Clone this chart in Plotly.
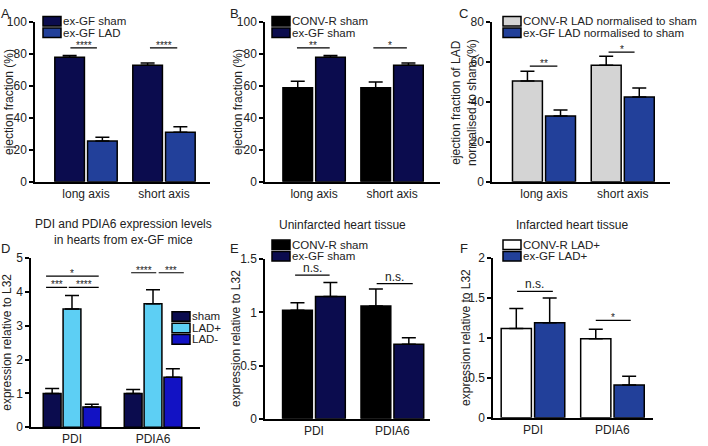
import plotly.graph_objects as go

W, H = 708, 446
FONT = "Liberation Sans, Arial, sans-serif"
TXT = "#222222"

# ---- data -------------------------------------------------------------
ef_cats = ["long axis", "short axis"]
gene_cats = ["PDI", "PDIA6"]

# A: ejection fraction, ex-GF sham vs ex-GF LAD
a_sham = [78.0, 73.0]
a_sham_err = [1.2, 1.5]
a_lad = [25.5, 31.0]
a_lad_err = [2.5, 3.5]

# B: ejection fraction, CONV-R sham vs ex-GF sham
b_conv = [59.0, 59.0]
b_conv_err = [4.0, 3.5]
b_exgf = [78.0, 73.0]
b_exgf_err = [1.2, 1.5]

# C: LAD normalised to sham
c_conv = [50.5, 58.5]
c_conv_err = [5.0, 4.5]
c_exgf = [33.0, 42.5]
c_exgf_err = [3.0, 4.5]

# D: PDI / PDIA6 expression in ex-GF hearts
d_sham = [1.0, 1.0]
d_sham_err = [0.15, 0.12]
d_ladp = [3.5, 3.65]
d_ladp_err = [0.4, 0.42]
d_ladm = [0.6, 1.48]
d_ladm_err = [0.08, 0.25]

# E: uninfarcted heart tissue
e_conv = [1.02, 1.06]
e_conv_err = [0.07, 0.16]
e_exgf = [1.15, 0.70]
e_exgf_err = [0.13, 0.06]

# F: infarcted heart tissue
f_conv = [1.12, 0.99]
f_conv_err = [0.25, 0.12]
f_exgf = [1.19, 0.41]
f_exgf_err = [0.31, 0.11]

# significance brackets: (x from, x to, level, label) in category units
a_sig = [(-0.2, 0.14, 84, "****"), (0.82, 1.17, 84, "****")]
b_sig = [(-0.22, 0.2, 84, "**"), (0.76, 1.19, 84, "*")]
c_sig = [(-0.18, 0.17, 58, "**"), (0.82, 1.15, 65, "*")]
d_sig = [(-0.32, 0.33, 4.47, "*"), (-0.32, -0.06, 4.14, "***"),
         (-0.04, 0.33, 4.14, "****"), (0.73, 1.04, 4.57, "****"),
         (1.07, 1.38, 4.57, "***")]
e_sig = [(-0.24, 0.2, 1.35, "n.s."), (0.8, 1.26, 1.27, "n.s.")]
f_sig = [(-0.2, 0.25, 1.585, "n.s."), (0.79, 1.23, 1.22, "*")]

# colours
NAVY = "#0b0c4e"
ROYAL = "#22409a"
BLACK = "#000000"
GREY = "#d4d4d4"
SKY = "#5dcff4"
BLUE = "#1212c4"
WHITE = "#ffffff"

fig = go.Figure()

# panel geometry in pixels: axis left/right, top/bottom; tx = y title centre
panels = [
    dict(n="", x0=35, x1=210, y0=16, y1=183, xr=[-0.654, 1.59], yr=[0, 100], dt=20,
         title="ejection fraction (%)", tx=9),
    dict(n="2", x0=265, x1=440, y0=16, y1=183, xr=[-0.63, 1.615], yr=[0, 100], dt=20,
         title="ejection fraction (%)", tx=238),
    dict(n="3", x0=492, x1=670, y0=16, y1=183, xr=[-0.66, 1.6], yr=[0, 80], dt=20,
         title="ejection fraction of LAD<br>normalised to sham (%)", tx=464),
    dict(n="4", x0=31, x1=200, y0=263, y1=440, xr=[-0.506, 1.58], yr=[0, 5], dt=1,
         title="expression relative to L32", tx=7),
    dict(n="5", x0=265, x1=430, y0=264, y1=431, xr=[-0.624, 1.48], yr=[0, 1.5], dt=0.5,
         title="expression relative to L32", tx=236),
    dict(n="6", x0=493, x1=653, y0=263, y1=430, xr=[-0.503, 1.51], yr=[0, 2], dt=0.5,
         title="expression relative to L32", tx=466),
]

layout = {}
for p in panels:
    layout["xaxis" + p["n"]] = dict(
        domain=[p["x0"] / W, p["x1"] / W], anchor="y" + p["n"], range=p["xr"],
        showline=True, linecolor="black", linewidth=1.5, ticks="",
        showgrid=False, zeroline=False, tickfont=dict(size=12, color=TXT, family=FONT),
        fixedrange=True,
    )
    layout["yaxis" + p["n"]] = dict(
        domain=[1 - p["y1"] / H, 1 - p["y0"] / H], anchor="x" + p["n"], range=p["yr"],
        showline=True, linecolor="black", linewidth=1.5, ticks="outside", ticklen=4,
        tickwidth=1.5, tickcolor="black", dtick=p["dt"], tick0=0,
        showgrid=False, zeroline=False, tickfont=dict(size=12, color=TXT, family=FONT),
        fixedrange=True,
    )


def add_bars(n, cats, vals, errs, color, width, offset):
    fig.add_trace(go.Bar(
        x=cats, y=vals, xaxis="x" + n, yaxis="y" + n,
        width=width, offset=offset,
        marker=dict(color=color, line=dict(color="black", width=1.5)),
        error_y=dict(type="data", array=errs, arrayminus=[0] * len(errs),
                     symmetric=False, color="black", thickness=1.5, width=7),
        showlegend=False,
    ))


BW = 0.38
add_bars("", ef_cats, a_sham, a_sham_err, NAVY, BW, -0.4)
add_bars("", ef_cats, a_lad, a_lad_err, ROYAL, BW, 0.02)
add_bars("2", ef_cats, b_conv, b_conv_err, BLACK, BW, -0.4)
add_bars("2", ef_cats, b_exgf, b_exgf_err, NAVY, BW, 0.02)
add_bars("3", ef_cats, c_conv, c_conv_err, GREY, BW, -0.4)
add_bars("3", ef_cats, c_exgf, c_exgf_err, ROYAL, BW, 0.02)
DW = 0.22
add_bars("4", gene_cats, d_sham, d_sham_err, NAVY, DW, -0.355)
add_bars("4", gene_cats, d_ladp, d_ladp_err, SKY, DW, -0.11)
add_bars("4", gene_cats, d_ladm, d_ladm_err, BLUE, DW, 0.135)
add_bars("5", gene_cats, e_conv, e_conv_err, BLACK, BW, -0.4)
add_bars("5", gene_cats, e_exgf, e_exgf_err, NAVY, BW, 0.02)
add_bars("6", gene_cats, f_conv, f_conv_err, WHITE, BW, -0.4)
add_bars("6", gene_cats, f_exgf, f_exgf_err, ROYAL, BW, 0.02)

shapes = []
annotations = []

# significance brackets
for n, sigs in [("", a_sig), ("2", b_sig), ("3", c_sig), ("4", d_sig), ("5", e_sig), ("6", f_sig)]:
    for xa, xb, lvl, lab in sigs:
        shapes.append(dict(type="line", xref="x" + n, yref="y" + n, x0=xa, x1=xb,
                           y0=lvl, y1=lvl, line=dict(color="black", width=1.2)))
        stars = lab.startswith("*")
        annotations.append(dict(xref="x" + n, yref="y" + n, x=(xa + xb) / 2, y=lvl,
                                text=lab, showarrow=False, yanchor="bottom",
                                yshift=-4 if stars else -1, borderpad=0,
                                font=dict(size=10 if stars else 12, color=TXT, family=FONT)))

# y axis titles (placed as rotated text)
for p in panels:
    annotations.append(dict(xref="paper", yref="paper", x=p["tx"] / W,
                            y=1 - (p["y0"] + p["y1"]) / 2 / H, text=p["title"],
                            textangle=-90, showarrow=False, xanchor="center",
                            yanchor="middle",
                            font=dict(size=12, color=TXT, family=FONT)))

# panel letters and titles
for lab, x, y in [("A", 5, 7), ("B", 234, 7), ("C", 464, 7),
                  ("D", 5, 253), ("E", 234, 253), ("F", 464, 253)]:
    annotations.append(dict(xref="paper", yref="paper", x=x / W, y=1 - y / H, text=lab,
                            showarrow=False, xanchor="center", yanchor="middle",
                            borderpad=0,
                            font=dict(size=13, color=TXT, family=FONT)))

for txt, x, y in [("PDI and PDIA6 expression levels<br>in hearts from ex-GF mice", 123, 236),
                  ("Uninfarcted heart tissue", 342, 228),
                  ("Infarcted heart tissue", 572, 228)]:
    annotations.append(dict(xref="paper", yref="paper", x=x / W, y=1 - y / H, text=txt,
                            showarrow=False, xanchor="center", yanchor="middle",
                            font=dict(size=12, color=TXT, family=FONT)))

# legends (swatch + label)
legends = [
    (43, [15, 27], [NAVY, ROYAL], ["ex-GF sham", "ex-GF LAD"]),
    (272, [15, 27], [BLACK, NAVY], ["CONV-R sham", "ex-GF sham"]),
    (503, [15, 27], [GREY, ROYAL], ["CONV-R LAD normalised to sham", "ex-GF LAD normalised to sham"]),
    (172, [324, 336, 348], [NAVY, SKY, BLUE], ["sham", "LAD+", "LAD-"]),
    (272, [249, 261], [BLACK, NAVY], ["CONV-R sham", "ex-GF sham"]),
    (503, [249, 261], [WHITE, ROYAL], ["CONV-R LAD+", "ex-GF LAD+"]),
]
for x0, rows, cols, labs in legends:
    for yc, col, lab in zip(rows, cols, labs):
        shapes.append(dict(type="rect", xref="paper", yref="paper",
                           x0=x0 / W, x1=(x0 + 18) / W, y0=1 - (yc + 5) / H, y1=1 - (yc - 5) / H,
                           fillcolor=col, line=dict(color="black", width=1.5)))
        annotations.append(dict(xref="paper", yref="paper", x=(x0 + 19) / W, y=1 - yc / H,
                                text=lab, showarrow=False, xanchor="left", yanchor="middle",
                                borderpad=0,
                                font=dict(size=11.5, color=TXT, family=FONT)))

fig.update_layout(
    **layout,
    width=W, height=H,
    margin=dict(l=0, r=0, t=0, b=0),
    paper_bgcolor="white", plot_bgcolor="white",
    font=dict(family=FONT, color=TXT, size=12),
    barmode="group",
    shapes=shapes, annotations=annotations,
)

# drop the default page margin so the 708x446 figure fills the window
fig.write_html("out.html", config={"displayModeBar": False},
               post_script="document.body.style.margin='0';")
